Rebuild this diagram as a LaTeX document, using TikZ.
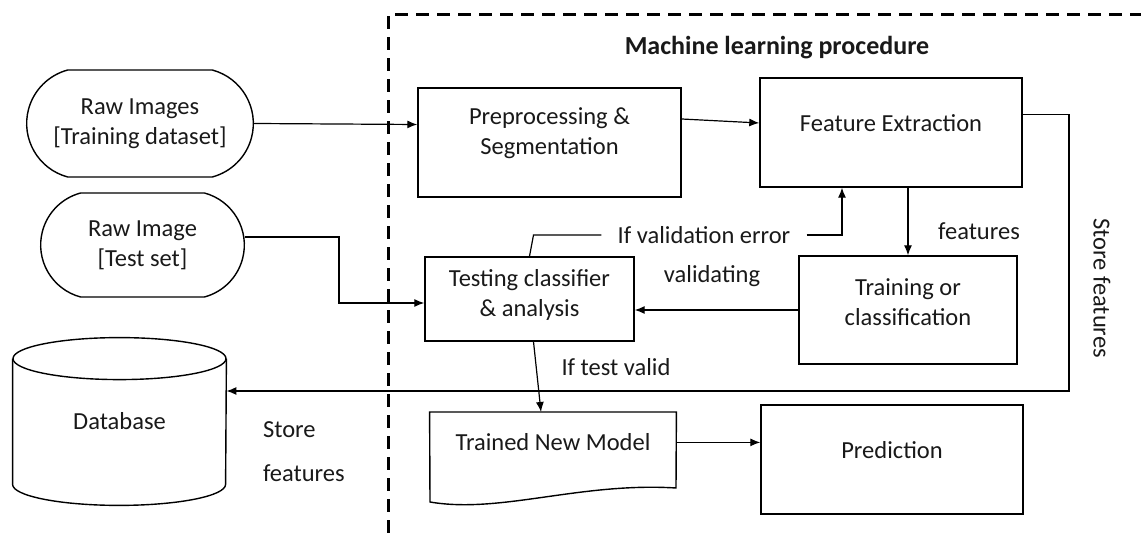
\documentclass[tikz,border=0pt]{standalone}
\usepackage{fontspec}
\setmainfont{Carlito}
\usetikzlibrary{shapes.misc,arrows.meta}
\begin{document}
\begin{tikzpicture}[x=0.5pt, y=-0.5pt,
    every node/.style={font=\fontsize{12.25}{15}\selectfont, align=center, text=black!90},
    box/.style args={#1/#2}{draw, line width=0.7pt, minimum width=#1pt, minimum height=#2pt},
    term/.style args={#1/#2}{draw, line width=0.7pt, rounded rectangle, rounded rectangle arc length=150, minimum width=#1pt, minimum height=#2pt},
    arr/.style={-{Latex[length=5pt,width=4pt]}, line width=0.6pt}]
\useasboundingbox (0,0) rectangle (1141,533);
\draw[dash pattern=on 6.5pt off 4pt, line width=1.5pt] (388,533) -- (388,15) -- (1141,15);
\node[font=\fontsize{13}{15}\selectfont\bfseries] (title) at (777,48) {Machine learning procedure};

\node[term=120/53.5] (raw) at (140,123.5) {Raw Images\\{[Training dataset]}};
\node[term=108.5/52] (test) at (142.5,245) {Raw Image\\{[Test set]}};
\node[box=131.5/54.5] (pre) at (549.5,142.5) {};
\node (pre-t) at (549.5,133) {Preprocessing \&\\Segmentation};
\node[box=131/54.5] (fe) at (891,132.5) {};
\node (fe-t) at (891,123) {Feature Extraction};
\node[box=109/54] (train) at (908,310) {};
\node (train-t) at (908,302) {Training or\\classification};
\node[box=104.5/42] (testc) at (529.5,299) {};
\node (testc-t) at (529.5,295) {Testing classifier\\\& analysis};
\node[minimum width=123pt, minimum height=30pt, anchor=north] (model) at (553,412) {Trained New Model};
\draw[line width=0.7pt] (model.north west) -- (model.north east) -- (676,488) .. controls (580,482) and (500,514) .. (430,502) -- cycle;
\node[box=131/54.5] (pred) at (892,459.5) {};
\node (pred-t) at (892,450) {Prediction};
\node[minimum width=106.5pt, minimum height=83.5pt] (db) at (119.5,421.5) {Database};
\draw[line width=0.7pt] ([yshift=-10.5pt]db.north) ellipse [x radius=53.25pt, y radius=10.5pt];
\draw[line width=0.7pt] ([yshift=-10.5pt]db.north west) -- ([yshift=10.5pt]db.south west)
    arc [start angle=180, end angle=360, x radius=53.25pt, y radius=10.5pt] -- ([yshift=-10.5pt]db.north east);

\draw[arr] (raw.east) -- ([yshift=9pt]pre.west);
\draw[arr] ([yshift=11.75pt]pre.east) -- ([yshift=4.75pt]fe.west);
\draw[arr] (train.north |- fe.south) -- (train.north);
\draw[arr] (train.west) -- (train.west -| testc.east);
\coordinate (bend) at (339,237);
\draw[arr] ([yshift=4pt]test.east) -- (bend) |- ([yshift=-2pt]testc.west);
\node[inner xsep=8pt] (valerr) at (704,235) {If validation error};
\draw[line width=0.6pt] (testc.north) -- ([xshift=2pt]testc.north |- valerr.west) -- (valerr.west);
\draw[arr] (valerr.east) -| ([xshift=-24.5pt]fe.south);
\draw[arr] ([xshift=2pt]testc.south) -- ([xshift=-6pt]model.north);
\draw[arr] (model.east) -- (model.east -| pred.west);
\coordinate (store) at (1069,391);
\draw[arr] ([yshift=9pt]fe.east) -| (store) -- (store -| db.east);

\node (feat) at (979,231) {features};
\node (valid) at (712,276) {validating};
\node (tvalid) at (616,367) {If test valid};
\node[rotate=-90] (storev) at (1102,288) {Store features};
\node[anchor=west] (store-a) at (256,430) {Store};
\node[anchor=west] (store-b) at (256,473) {features};
\end{tikzpicture}
\end{document}
